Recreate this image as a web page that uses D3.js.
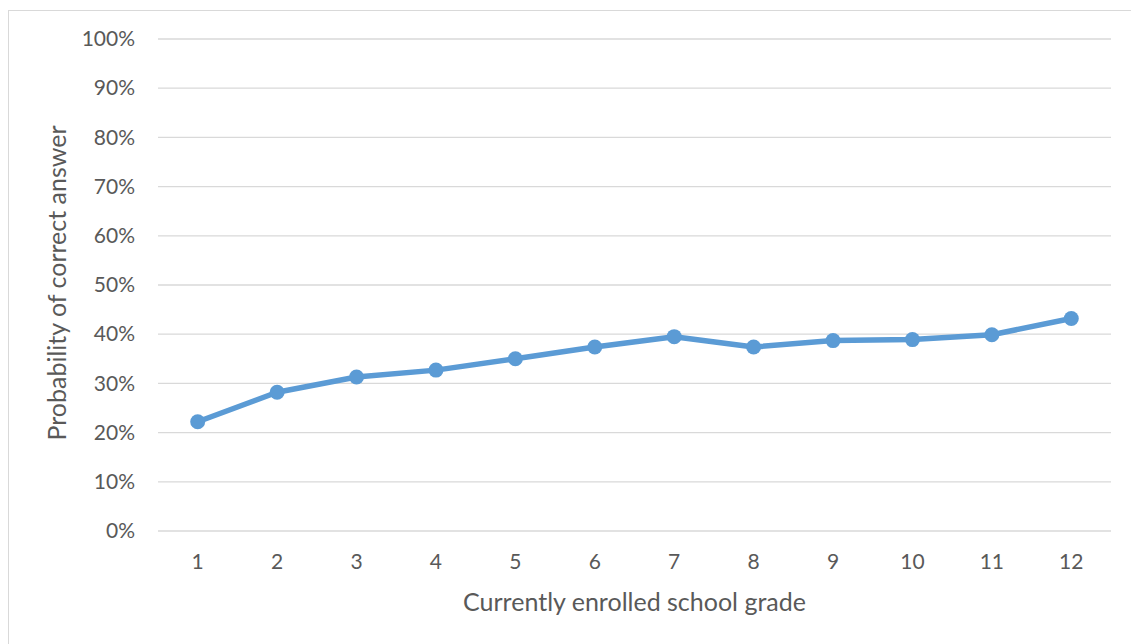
<!DOCTYPE html>
<html>
<head>
<meta charset="utf-8">
<script src="https://cdn.jsdelivr.net/npm/d3@7"></script>
<style>
  body { margin: 0; background: #fff; }
  text { font-family: Lato, "Open Sans", sans-serif; fill: #595959; }
</style>
</head>
<body>
<div id="chart"></div>
<script>
// grades and the share of correct answers
const grades = [1, 2, 3, 4, 5, 6, 7, 8, 9, 10, 11, 12];
const probCorrect = [0.222, 0.282, 0.313, 0.327, 0.350, 0.374, 0.395, 0.374, 0.387, 0.389, 0.399, 0.432];
const yTicks = [0, 0.1, 0.2, 0.3, 0.4, 0.5, 0.6, 0.7, 0.8, 0.9, 1.0];

const width = 1131, height = 644;
const margin = {top: 39, right: 20, bottom: 113, left: 158};
const plotW = 1111 - margin.left;
const plotH = 531 - margin.top;

const svg = d3.select('#chart').append('svg')
    .attr('width', width)
    .attr('height', height);

// chart border
svg.append('rect')
    .attr('x', 8.5).attr('y', 10.5)
    .attr('width', 1140).attr('height', 700)
    .attr('fill', 'none')
    .attr('stroke', '#d9d9d9');

let g = svg.append('g').attr('transform', `translate(${margin.left},${margin.top})`);

let x = d3.scaleBand()
    .domain(grades)
    .range([0, plotW]);

let y = d3.scaleLinear()
    .domain([0, 1])
    .range([plotH, 0]);

// gridlines
g.selectAll('.grid')
    .data(yTicks)
    .join('line')
    .attr('class', 'grid')
    .attr('x1', 0).attr('x2', plotW)
    .attr('y1', d => y(d)).attr('y2', d => y(d))
    .attr('stroke', '#d9d9d9')
    .attr('stroke-width', 1.3);

// y axis labels
let yAxis = g.append('g')
    .call(d3.axisLeft(y).tickValues(yTicks).tickFormat(d3.format('.0%')).tickSize(0).tickPadding(23));
yAxis.select('.domain').remove();
yAxis.selectAll('text').style('font-size', '21px').attr('fill', '#595959');

// x axis labels
let xAxis = g.append('g')
    .attr('transform', `translate(0,${plotH})`)
    .call(d3.axisBottom(x).tickSize(0).tickPadding(23));
xAxis.select('.domain').remove();
xAxis.selectAll('text').style('font-size', '21px').attr('fill', '#595959');

let data = grades.map((gr, i) => ({grade: gr, p: probCorrect[i]}));
let cx = d => x(d.grade) + x.bandwidth() / 2;

let line = d3.line()
    .x(cx)
    .y(d => y(d.p));

g.append('path')
    .datum(data)
    .attr('d', line)
    .attr('fill', 'none')
    .attr('stroke', '#5b9bd5')
    .attr('stroke-width', 5.5)
    .attr('stroke-linejoin', 'round');

g.selectAll('.dot')
    .data(data)
    .join('circle')
    .attr('class', 'dot')
    .attr('cx', cx)
    .attr('cy', d => y(d.p))
    .attr('r', 7.5)
    .attr('fill', '#5b9bd5');

// axis titles
svg.append('text')
    .text('Currently enrolled school grade')
    .attr('x', margin.left + plotW / 2)
    .attr('y', 611)
    .attr('text-anchor', 'middle')
    .style('font-size', '25px');

svg.append('text')
    .text('Probability of correct answer')
    .attr('transform', `translate(66,${margin.top + plotH / 2 - 2}) rotate(-90)`)
    .attr('text-anchor', 'middle')
    .style('font-size', '25px');
</script>
</body>
</html>
